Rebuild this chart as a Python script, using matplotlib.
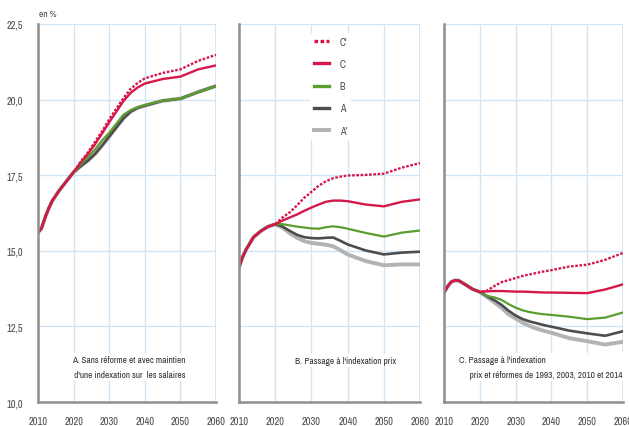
import matplotlib
matplotlib.use("Agg")
import matplotlib.pyplot as plt
from matplotlib.lines import Line2D

plt.rcParams['font.family'] = ['Arial Narrow', 'Liberation Sans Narrow', 'Archivo Narrow',
                               'PT Sans Narrow', 'Roboto Condensed', 'Fira Sans Condensed',
                               'Sofia Sans Condensed', 'Encode Sans Condensed', 'DejaVu Sans']

# Shared time axis (years)
years = [2010, 2011, 2012, 2013, 2014, 2016, 2018, 2020, 2022, 2024, 2026, 2028,
         2030, 2032, 2034, 2036, 2038, 2040, 2045, 2050, 2055, 2060]

# Panel A: no reform, wage indexation kept
hist_a = [15.6, 15.75, 16.1, 16.4, 16.65, 17.0, 17.3, 17.6]
a_cprime = [17.95, 18.25, 18.6, 18.95, 19.35, 19.7, 20.05, 20.35, 20.55, 20.7, 20.88, 21.0, 21.28, 21.48]
a_c = [17.92, 18.2, 18.52, 18.88, 19.25, 19.6, 19.95, 20.22, 20.4, 20.53, 20.68, 20.76, 21.0, 21.13]
a_b = [17.85, 18.1, 18.35, 18.65, 18.9, 19.2, 19.5, 19.65, 19.75, 19.82, 19.96, 20.03, 20.25, 20.45]
a_a = [17.8, 17.98, 18.2, 18.48, 18.78, 19.08, 19.38, 19.6, 19.73, 19.8, 19.96, 20.03, 20.25, 20.45]
a_aprime = [17.8, 17.98, 18.2, 18.48, 18.78, 19.08, 19.38, 19.6, 19.73, 19.8, 19.96, 20.03, 20.25, 20.45]

# Panel B: price indexation
hist_b = [14.45, 14.8, 15.05, 15.25, 15.45, 15.65, 15.8, 15.88]
b_cprime = [16.1, 16.27, 16.5, 16.75, 16.95, 17.15, 17.3, 17.4, 17.45, 17.49, 17.51, 17.55, 17.75, 17.9]
b_c = [16.0, 16.1, 16.2, 16.32, 16.43, 16.53, 16.62, 16.66, 16.66, 16.64, 16.53, 16.47, 16.62, 16.7]
b_b = [15.88, 15.84, 15.8, 15.77, 15.74, 15.73, 15.78, 15.81, 15.78, 15.73, 15.59, 15.47, 15.6, 15.67]
b_a = [15.8, 15.66, 15.53, 15.45, 15.42, 15.41, 15.43, 15.44, 15.33, 15.21, 15.01, 14.88, 14.94, 14.97]
b_aprime = [15.77, 15.58, 15.43, 15.32, 15.26, 15.23, 15.2, 15.15, 15.02, 14.88, 14.66, 14.52, 14.55, 14.55]

# Panel C: price indexation plus 1993, 2003, 2010 and 2014 reforms
hist_c = [13.62, 13.82, 13.97, 14.02, 14.02, 13.88, 13.73, 13.64]
c_cprime = [13.68, 13.83, 13.96, 14.03, 14.1, 14.17, 14.22, 14.27, 14.32, 14.36, 14.48, 14.54, 14.7, 14.93]
c_c = [13.66, 13.67, 13.67, 13.66, 13.65, 13.65, 13.64, 13.63, 13.62, 13.62, 13.61, 13.6, 13.72, 13.89]
c_b = [13.51, 13.46, 13.38, 13.24, 13.12, 13.03, 12.97, 12.93, 12.9, 12.88, 12.82, 12.74, 12.79, 12.96]
c_a = [13.5, 13.37, 13.22, 13.02, 12.86, 12.74, 12.66, 12.6, 12.54, 12.49, 12.36, 12.27, 12.19, 12.34]
c_aprime = [13.47, 13.3, 13.12, 12.9, 12.76, 12.62, 12.51, 12.42, 12.35, 12.29, 12.11, 12.01, 11.9, 11.99]

scenario_labels = ["C'", "C", "B", "A", "A'"]
y_ticks = [10.0, 12.5, 15.0, 17.5, 20.0, 22.5]
y_tick_labels = ["10,0", "12,5", "15,0", "17,5", "20,0", "22,5"]
x_ticks = [2010, 2020, 2030, 2040, 2050, 2060]

panel_titles = [
    "A. Sans réforme et avec maintien\n d'une indexation sur  les salaires",
    "B. Passage à l'indexation prix",
    "C. Passage à l'indexation\n     prix et réformes de 1993, 2003, 2010 et 2014",
]

panels = [
    (hist_a, [a_cprime, a_c, a_b, a_a, a_aprime]),
    (hist_b, [b_cprime, b_c, b_b, b_a, b_aprime]),
    (hist_c, [c_cprime, c_c, c_b, c_a, c_aprime]),
]

RED = "#d5174a"
styles = {
    "C'": dict(color=RED, lw=1.7, ls=(0, (1.1, 0.7)), zorder=6),
    "C": dict(color=RED, lw=1.7, ls="-", zorder=5),
    "B": dict(color="#5a9e2f", lw=1.6, ls="-", zorder=4),
    "A": dict(color="#4d4d4d", lw=1.9, ls="-", zorder=3),
    "A'": dict(color="#b3b3b3", lw=2.8, ls="-", zorder=2),
}

fig = plt.figure(figsize=(6.29, 4.27), dpi=100)
bottom, height = 0.0562, 0.8853
lefts = [0.0604, 0.380, 0.7059]
widths = [0.283, 0.2878, 0.2846]

GRID = "#cfe5f5"
SPINE = "#8e8e8e"
TXT = "#4a4a4a"
NOTE = "#333333"
NOTE_SIZE = 6.7

axes = []
for i, (hist, series) in enumerate(panels):
    ax = fig.add_axes([lefts[i], bottom, widths[i], height])
    axes.append(ax)
    ax.set_xlim(2010, 2060)
    ax.set_ylim(10, 22.5)
    ax.set_xticks(x_ticks)
    ax.set_yticks(y_ticks)
    ax.grid(True, color=GRID, lw=0.9, zorder=0)
    ax.set_axisbelow(True)
    for s in ("top", "right"):
        ax.spines[s].set_visible(False)
    for s in ("left", "bottom"):
        ax.spines[s].set_color(SPINE)
        ax.spines[s].set_linewidth(1.8)
        ax.spines[s].set_zorder(7)
    # top and right edges appear as grid lines
    ax.axhline(22.5, color=GRID, lw=1.2, zorder=0)
    ax.axvline(2060, color=GRID, lw=1.2, zorder=0)
    ax.tick_params(length=0, labelsize=7.5, labelcolor=TXT)
    ax.tick_params(axis="x", pad=10)
    if i == 0:
        ax.set_yticklabels(y_tick_labels)
        ax.tick_params(axis="y", pad=11)
    else:
        ax.set_yticklabels([])
    ax.set_xticklabels([str(x) for x in x_ticks])

    for label, proj in zip(scenario_labels, series):
        st = styles[label]
        ax.plot(years, hist + proj, color=st["color"], lw=st["lw"], ls=st["ls"],
                zorder=st["zorder"], solid_capstyle="round", solid_joinstyle="round")

    box = dict(facecolor="white", edgecolor="none", pad=1.5)
    if i == 0:
        ax.text(2035.6, 11.15, panel_titles[0], ha="center", va="center", fontsize=NOTE_SIZE,
                color=NOTE, linespacing=1.85, bbox=box, zorder=8)
    elif i == 1:
        ax.text(2039.5, 11.38, panel_titles[1], ha="center", va="center", fontsize=NOTE_SIZE,
                color=NOTE, bbox=box, zorder=8)
    else:
        ax.text(2014.2, 11.15, panel_titles[2], ha="left", va="center", fontsize=NOTE_SIZE,
                color=NOTE, linespacing=1.85, bbox=box, zorder=8)

axes[0].text(2010.3, 22.86, "en %", fontsize=6.8, color=TXT, ha="left", va="center")

handles = [Line2D([], [], color=styles[l]["color"], lw=2.4 if l != "A'" else 2.8,
                  ls=styles[l]["ls"]) for l in scenario_labels]
leg = axes[1].legend(handles, scenario_labels, loc="upper center", bbox_to_anchor=(0.505, 0.99),
                     frameon=True, fontsize=7.2, handlelength=1.5, handletextpad=1.1,
                     labelspacing=1.22, borderpad=0.4, labelcolor=TXT)
leg.get_frame().set_edgecolor("none")
leg.get_frame().set_facecolor("white")
leg.get_frame().set_alpha(1)
leg.set_zorder(9)

fig.savefig("out.png", dpi=100)
